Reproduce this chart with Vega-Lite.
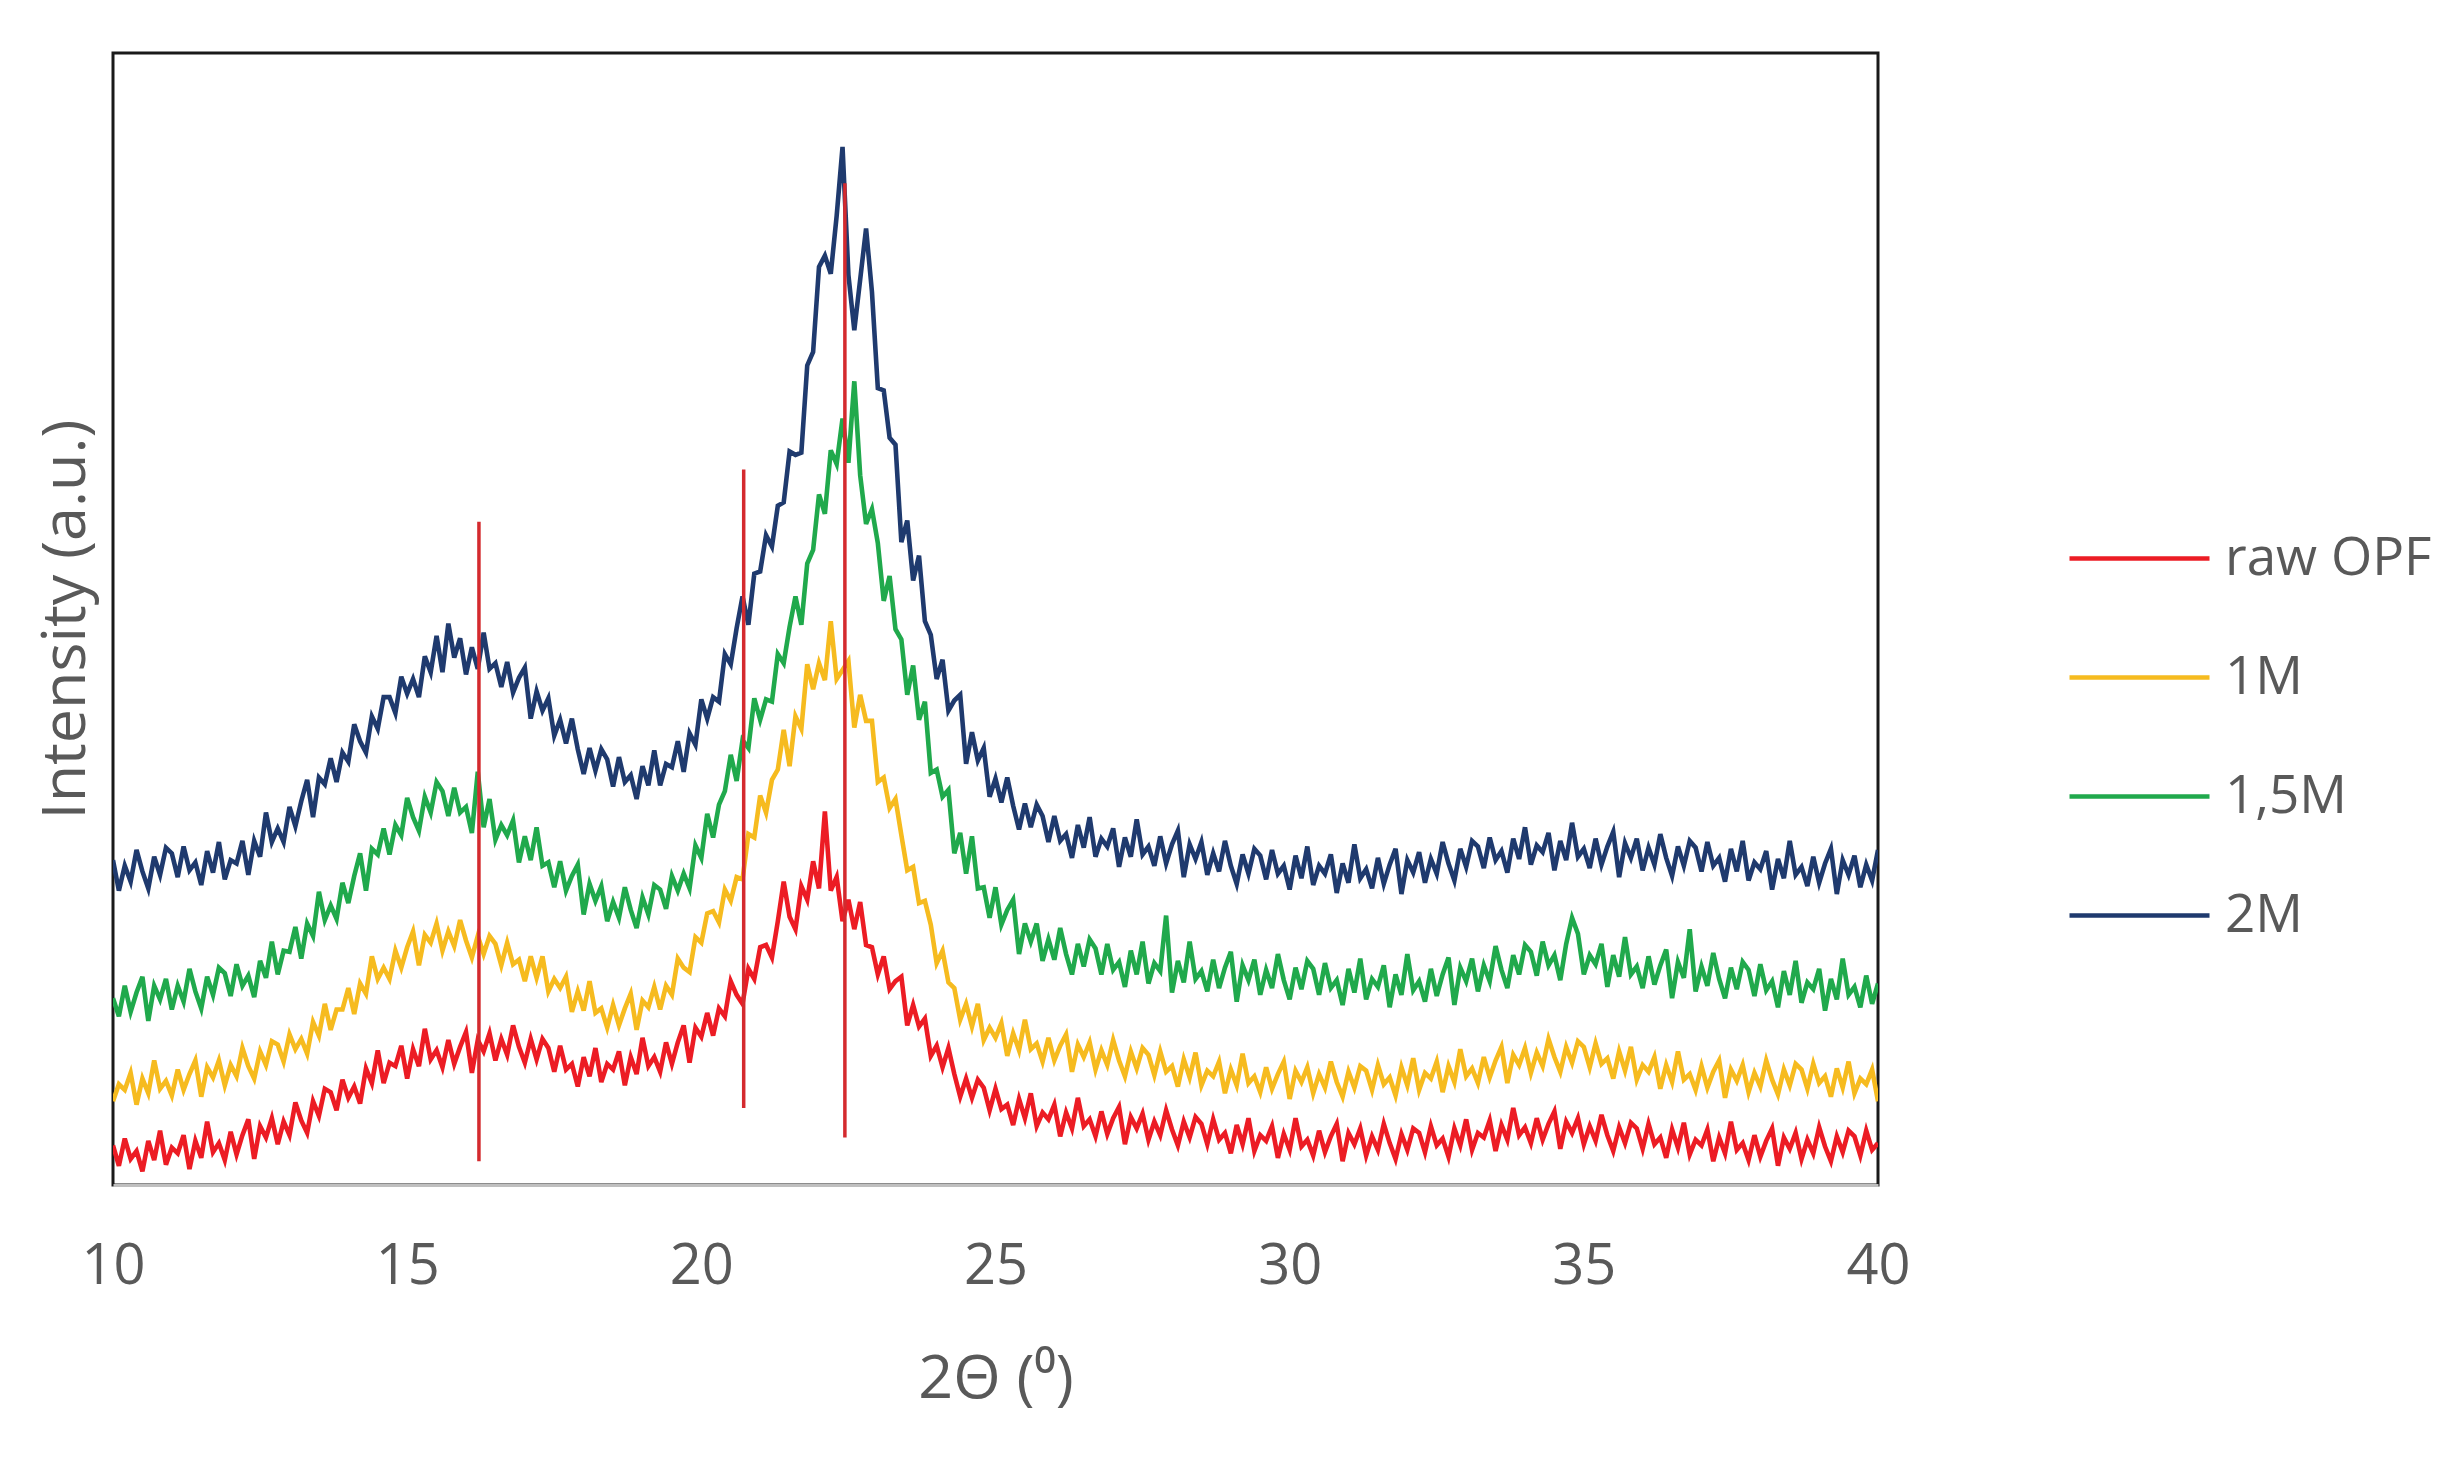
{
"$schema":"https://vega.github.io/schema/vega-lite/v6.json",
"width":1765,"height":1132,
"autosize":{"type":"none"},
"padding":{"left":113,"top":53,"right":564,"bottom":296},
"background":"white",
"config":{"view":{"stroke":"#1a1a1a","strokeWidth":3},"font":"Open Sans"},
"layer":[
{"data":{"values":[
{"x":10,"r":3.5,"y":7.4,"g":16.5,"b":28.7},
{"x":10.1,"r":1.7,"y":8.9,"g":14.9,"b":26.0},
{"x":10.2,"r":4.1,"y":8.4,"g":17.6,"b":28.2},
{"x":10.3,"r":2.3,"y":9.9,"g":15.3,"b":26.8},
{"x":10.4,"r":3.0,"y":7.1,"g":17.0,"b":29.6},
{"x":10.5,"r":1.2,"y":9.4,"g":18.4,"b":27.7},
{"x":10.6,"r":3.9,"y":8.1,"g":14.5,"b":26.2},
{"x":10.7,"r":2.2,"y":11.0,"g":17.6,"b":29.0},
{"x":10.8,"r":4.8,"y":8.5,"g":16.4,"b":27.4},
{"x":10.9,"r":1.8,"y":9.2,"g":18.2,"b":29.8},
{"x":11.0,"r":3.3,"y":7.9,"g":15.5,"b":29.3},
{"x":11.1,"r":2.8,"y":10.2,"g":17.6,"b":27.2},
{"x":11.2,"r":4.4,"y":8.4,"g":16.2,"b":29.9},
{"x":11.3,"r":1.4,"y":9.8,"g":19.1,"b":27.8},
{"x":11.4,"r":3.9,"y":11.0,"g":17.1,"b":28.5},
{"x":11.5,"r":2.4,"y":7.8,"g":15.6,"b":26.5},
{"x":11.6,"r":5.6,"y":10.4,"g":18.4,"b":29.5},
{"x":11.7,"r":2.9,"y":9.5,"g":16.8,"b":27.6},
{"x":11.8,"r":3.7,"y":11.0,"g":19.2,"b":30.3},
{"x":11.9,"r":2.2,"y":8.8,"g":18.7,"b":27.0},
{"x":12.0,"r":4.7,"y":10.6,"g":16.7,"b":28.7},
{"x":12.1,"r":2.7,"y":9.6,"g":19.5,"b":28.4},
{"x":12.2,"r":4.4,"y":12.1,"g":17.6,"b":30.4},
{"x":12.3,"r":5.8,"y":10.5,"g":18.5,"b":27.4},
{"x":12.4,"r":2.3,"y":9.4,"g":16.6,"b":30.4},
{"x":12.5,"r":5.2,"y":11.8,"g":19.8,"b":29.0},
{"x":12.6,"r":4.2,"y":10.6,"g":18.3,"b":32.9},
{"x":12.7,"r":5.9,"y":12.7,"g":21.5,"b":30.3},
{"x":12.8,"r":3.6,"y":12.4,"g":18.6,"b":31.5},
{"x":12.9,"r":5.6,"y":10.9,"g":20.7,"b":30.3},
{"x":13.0,"r":4.4,"y":13.3,"g":20.6,"b":33.4},
{"x":13.1,"r":7.3,"y":12.0,"g":22.8,"b":31.7},
{"x":13.2,"r":5.7,"y":12.9,"g":20.0,"b":33.9},
{"x":13.3,"r":4.6,"y":11.6,"g":23.1,"b":35.8},
{"x":13.4,"r":7.4,"y":14.4,"g":22.0,"b":32.5},
{"x":13.5,"r":6.1,"y":13.2,"g":25.9,"b":36.0},
{"x":13.6,"r":8.5,"y":16.0,"g":23.4,"b":35.4},
{"x":13.7,"r":8.2,"y":13.7,"g":24.7,"b":37.7},
{"x":13.8,"r":6.6,"y":15.5,"g":23.5,"b":35.6},
{"x":13.9,"r":9.3,"y":15.5,"g":26.7,"b":38.2},
{"x":14.0,"r":7.7,"y":17.4,"g":24.9,"b":37.4},
{"x":14.1,"r":8.7,"y":15.1,"g":27.3,"b":40.7},
{"x":14.2,"r":7.2,"y":17.8,"g":29.3,"b":39.2},
{"x":14.3,"r":10.3,"y":16.9,"g":26.0,"b":38.2},
{"x":14.4,"r":9.0,"y":20.2,"g":29.7,"b":41.4},
{"x":14.5,"r":11.9,"y":18.2,"g":29.2,"b":40.3},
{"x":14.6,"r":9.0,"y":19.2,"g":31.5,"b":43.1},
{"x":14.7,"r":10.8,"y":18.2,"g":29.2,"b":43.1},
{"x":14.8,"r":10.5,"y":20.7,"g":31.8,"b":41.7},
{"x":14.9,"r":12.3,"y":19.2,"g":30.9,"b":44.9},
{"x":15.0,"r":9.4,"y":21.0,"g":34.2,"b":43.4},
{"x":15.1,"r":12.0,"y":22.4,"g":32.5,"b":44.7},
{"x":15.2,"r":10.5,"y":19.4,"g":31.3,"b":43.1},
{"x":15.3,"r":13.8,"y":22.1,"g":34.3,"b":46.7},
{"x":15.4,"r":11.1,"y":21.4,"g":32.9,"b":45.3},
{"x":15.5,"r":11.9,"y":23.1,"g":35.6,"b":48.5},
{"x":15.6,"r":10.4,"y":20.7,"g":34.8,"b":45.3},
{"x":15.7,"r":12.8,"y":22.4,"g":32.6,"b":49.6},
{"x":15.8,"r":10.7,"y":21.1,"g":35.1,"b":46.6},
{"x":15.9,"r":12.2,"y":23.4,"g":32.9,"b":48.3},
{"x":16.0,"r":13.5,"y":21.6,"g":33.4,"b":45.1},
{"x":16.1,"r":9.9,"y":20.1,"g":31.1,"b":47.5},
{"x":16.2,"r":12.8,"y":22.0,"g":36.5,"b":45.6},
{"x":16.3,"r":11.8,"y":20.4,"g":31.6,"b":48.8},
{"x":16.4,"r":13.4,"y":22.0,"g":34.1,"b":45.6},
{"x":16.5,"r":11.0,"y":21.3,"g":30.5,"b":46.1},
{"x":16.6,"r":12.9,"y":19.4,"g":31.8,"b":44.0},
{"x":16.7,"r":11.5,"y":21.4,"g":30.9,"b":46.2},
{"x":16.8,"r":14.1,"y":19.5,"g":32.2,"b":43.5},
{"x":16.9,"r":12.2,"y":19.9,"g":28.5,"b":44.8},
{"x":17.0,"r":10.8,"y":18.0,"g":30.8,"b":45.7},
{"x":17.1,"r":12.9,"y":20.2,"g":28.7,"b":41.2},
{"x":17.2,"r":11.1,"y":18.3,"g":31.6,"b":43.6},
{"x":17.3,"r":12.9,"y":20.2,"g":28.2,"b":41.9},
{"x":17.4,"r":12.1,"y":17.1,"g":28.5,"b":43.0},
{"x":17.5,"r":10.0,"y":18.2,"g":26.3,"b":39.7},
{"x":17.6,"r":12.3,"y":17.4,"g":28.6,"b":41.1},
{"x":17.7,"r":10.2,"y":18.4,"g":26.0,"b":39.0},
{"x":17.8,"r":10.7,"y":15.3,"g":27.3,"b":41.2},
{"x":17.9,"r":8.7,"y":17.1,"g":28.3,"b":38.5},
{"x":18.0,"r":11.3,"y":15.4,"g":23.9,"b":36.3},
{"x":18.1,"r":9.6,"y":18.0,"g":26.6,"b":38.6},
{"x":18.2,"r":12.1,"y":15.2,"g":25.1,"b":36.6},
{"x":18.3,"r":9.1,"y":15.6,"g":26.4,"b":38.5},
{"x":18.4,"r":10.7,"y":13.9,"g":23.3,"b":37.6},
{"x":18.5,"r":10.2,"y":15.9,"g":25.0,"b":35.2},
{"x":18.6,"r":11.8,"y":14.1,"g":23.6,"b":37.8},
{"x":18.7,"r":8.8,"y":15.6,"g":26.3,"b":35.6},
{"x":18.8,"r":11.3,"y":16.9,"g":24.3,"b":36.2},
{"x":18.9,"r":9.8,"y":13.7,"g":22.7,"b":34.1},
{"x":19.0,"r":13.0,"y":16.3,"g":25.4,"b":37.0},
{"x":19.1,"r":10.5,"y":15.7,"g":23.9,"b":35.3},
{"x":19.2,"r":11.3,"y":17.5,"g":26.5,"b":38.4},
{"x":19.3,"r":10.0,"y":15.5,"g":26.1,"b":35.3},
{"x":19.4,"r":12.6,"y":17.6,"g":24.4,"b":37.2},
{"x":19.5,"r":10.7,"y":16.8,"g":27.3,"b":36.9},
{"x":19.6,"r":12.6,"y":20.0,"g":26.0,"b":39.2},
{"x":19.7,"r":14.1,"y":19.2,"g":27.5,"b":36.5},
{"x":19.8,"r":10.8,"y":18.8,"g":26.2,"b":39.9},
{"x":19.9,"r":13.9,"y":21.9,"g":30.0,"b":38.9},
{"x":20.0,"r":13.1,"y":21.4,"g":28.9,"b":42.9},
{"x":20.1,"r":15.2,"y":24.0,"g":32.8,"b":41.2},
{"x":20.2,"r":13.2,"y":24.2,"g":30.7,"b":43.1},
{"x":20.3,"r":15.6,"y":23.2,"g":33.6,"b":42.7},
{"x":20.4,"r":14.9,"y":26.1,"g":34.8,"b":46.9},
{"x":20.5,"r":18.0,"y":25.1,"g":38.0,"b":46.0},
{"x":20.6,"r":16.8,"y":27.2,"g":35.7,"b":49.2},
{"x":20.7,"r":16.0,"y":27.0,"g":39.3,"b":52.0},
{"x":20.8,"r":19.1,"y":31.0,"g":38.6,"b":49.5},
{"x":20.9,"r":18.2,"y":30.7,"g":43.0,"b":54.0},
{"x":21.0,"r":21.0,"y":34.4,"g":41.1,"b":54.2},
{"x":21.1,"r":21.2,"y":32.9,"g":42.9,"b":57.4},
{"x":21.2,"r":20.1,"y":35.8,"g":42.7,"b":56.4},
{"x":21.3,"r":23.3,"y":36.7,"g":46.9,"b":60.0},
{"x":21.4,"r":26.8,"y":40.2,"g":46.1,"b":60.3},
{"x":21.5,"r":23.7,"y":37.0,"g":49.3,"b":64.8},
{"x":21.6,"r":22.6,"y":41.4,"g":52.0,"b":64.5},
{"x":21.7,"r":26.4,"y":40.3,"g":49.5,"b":64.7},
{"x":21.8,"r":25.2,"y":46.0,"g":54.9,"b":72.4},
{"x":21.9,"r":28.6,"y":43.8,"g":56.1,"b":73.6},
{"x":22.0,"r":26.2,"y":46.1,"g":61.0,"b":81.1},
{"x":22.1,"r":33.0,"y":44.6,"g":59.3,"b":82.1},
{"x":22.2,"r":26.0,"y":49.8,"g":64.9,"b":80.5},
{"x":22.3,"r":27.2,"y":44.7,"g":63.7,"b":85.6},
{"x":22.4,"r":23.3,"y":45.5,"g":67.7,"b":91.7},
{"x":22.5,"r":25.2,"y":46.3,"g":63.8,"b":80.4},
{"x":22.6,"r":22.6,"y":40.4,"g":71.0,"b":75.5},
{"x":22.7,"r":25.0,"y":43.3,"g":62.7,"b":80.0},
{"x":22.8,"r":21.2,"y":41.0,"g":58.4,"b":84.5},
{"x":22.9,"r":21.0,"y":41.0,"g":59.7,"b":78.9},
{"x":23.0,"r":18.6,"y":35.6,"g":56.7,"b":70.4},
{"x":23.1,"r":20.2,"y":36.0,"g":51.6,"b":70.2},
{"x":23.2,"r":17.3,"y":33.3,"g":53.8,"b":66.0},
{"x":23.3,"r":18.0,"y":34.1,"g":49.1,"b":65.4},
{"x":23.4,"r":18.4,"y":30.9,"g":48.2,"b":56.8},
{"x":23.5,"r":14.1,"y":27.8,"g":43.3,"b":58.7},
{"x":23.6,"r":15.9,"y":28.1,"g":45.9,"b":53.4},
{"x":23.7,"r":14.0,"y":24.9,"g":41.1,"b":55.6},
{"x":23.8,"r":14.7,"y":25.1,"g":42.7,"b":49.8},
{"x":23.9,"r":11.4,"y":23.0,"g":36.4,"b":48.6},
{"x":24.0,"r":12.3,"y":19.6,"g":36.7,"b":44.7},
{"x":24.1,"r":10.4,"y":20.7,"g":34.3,"b":46.4},
{"x":24.2,"r":12.1,"y":17.9,"g":34.9,"b":41.9},
{"x":24.3,"r":9.8,"y":17.4,"g":29.3,"b":42.8},
{"x":24.4,"r":7.8,"y":14.6,"g":31.1,"b":43.3},
{"x":24.5,"r":9.4,"y":16.0,"g":27.5,"b":37.2},
{"x":24.6,"r":7.7,"y":14.0,"g":30.8,"b":40.0},
{"x":24.7,"r":9.3,"y":16.0,"g":26.2,"b":37.5},
{"x":24.8,"r":8.6,"y":12.8,"g":26.3,"b":38.6},
{"x":24.9,"r":6.6,"y":13.9,"g":23.6,"b":34.3},
{"x":25.0,"r":8.5,"y":13.0,"g":26.3,"b":35.9},
{"x":25.1,"r":6.7,"y":14.3,"g":23.0,"b":33.8},
{"x":25.2,"r":7.1,"y":11.4,"g":24.3,"b":36.0},
{"x":25.3,"r":5.3,"y":13.4,"g":25.2,"b":33.5},
{"x":25.4,"r":7.6,"y":11.9,"g":20.4,"b":31.4},
{"x":25.5,"r":5.9,"y":14.6,"g":23.1,"b":33.7},
{"x":25.6,"r":8.1,"y":12.0,"g":21.5,"b":31.6},
{"x":25.7,"r":5.2,"y":12.5,"g":23.1,"b":33.6},
{"x":25.8,"r":6.4,"y":10.9,"g":19.8,"b":32.6},
{"x":25.9,"r":5.8,"y":13.0,"g":21.7,"b":30.3},
{"x":26.0,"r":7.1,"y":11.0,"g":19.9,"b":32.6},
{"x":26.1,"r":4.3,"y":12.3,"g":22.7,"b":30.4},
{"x":26.2,"r":6.4,"y":13.3,"g":20.4,"b":31.0},
{"x":26.3,"r":5.0,"y":10.0,"g":18.6,"b":28.9},
{"x":26.4,"r":7.7,"y":12.4,"g":21.3,"b":31.8},
{"x":26.5,"r":5.2,"y":11.3,"g":19.3,"b":29.8},
{"x":26.6,"r":5.8,"y":12.6,"g":21.7,"b":32.5},
{"x":26.7,"r":4.3,"y":10.2,"g":20.9,"b":29.0},
{"x":26.8,"r":6.5,"y":11.9,"g":18.6,"b":30.6},
{"x":26.9,"r":4.5,"y":10.6,"g":21.3,"b":29.9},
{"x":27.0,"r":5.9,"y":12.8,"g":19.0,"b":31.5},
{"x":27.1,"r":6.9,"y":11.0,"g":19.7,"b":28.1},
{"x":27.2,"r":3.6,"y":9.6,"g":17.5,"b":30.7},
{"x":27.3,"r":6.0,"y":11.8,"g":20.7,"b":29.0},
{"x":27.4,"r":5.0,"y":10.3,"g":18.6,"b":32.3},
{"x":27.5,"r":6.3,"y":12.1,"g":21.5,"b":29.2},
{"x":27.6,"r":4.0,"y":11.5,"g":17.8,"b":29.9},
{"x":27.7,"r":5.6,"y":9.7,"g":19.6,"b":28.2},
{"x":27.8,"r":4.4,"y":11.8,"g":18.9,"b":30.8},
{"x":27.9,"r":6.6,"y":10.0,"g":23.8,"b":28.4},
{"x":28.0,"r":4.9,"y":10.5,"g":17.0,"b":30.1},
{"x":28.1,"r":3.5,"y":8.7,"g":19.8,"b":31.3},
{"x":28.2,"r":5.6,"y":11.1,"g":17.9,"b":27.2},
{"x":28.3,"r":4.2,"y":9.5,"g":21.5,"b":30.1},
{"x":28.4,"r":6.0,"y":11.7,"g":18.2,"b":28.8},
{"x":28.5,"r":5.4,"y":8.8,"g":18.9,"b":30.3},
{"x":28.6,"r":3.6,"y":10.1,"g":17.1,"b":27.4},
{"x":28.7,"r":5.8,"y":9.6,"g":19.9,"b":29.3},
{"x":28.8,"r":4.0,"y":10.9,"g":17.4,"b":27.7},
{"x":28.9,"r":4.6,"y":8.1,"g":19.2,"b":30.4},
{"x":29.0,"r":2.8,"y":10.2,"g":20.6,"b":28.2},
{"x":29.1,"r":5.3,"y":8.8,"g":16.2,"b":26.6},
{"x":29.2,"r":3.6,"y":11.6,"g":19.4,"b":29.2},
{"x":29.3,"r":5.9,"y":9.0,"g":18.1,"b":27.5},
{"x":29.4,"r":3.0,"y":9.6,"g":19.9,"b":29.7},
{"x":29.5,"r":4.4,"y":8.2,"g":16.8,"b":29.1},
{"x":29.6,"r":3.9,"y":10.4,"g":19.0,"b":27.0},
{"x":29.7,"r":5.2,"y":8.5,"g":17.4,"b":29.6},
{"x":29.8,"r":2.4,"y":9.8,"g":20.4,"b":27.5},
{"x":29.9,"r":4.5,"y":10.9,"g":18.1,"b":28.2},
{"x":30.0,"r":3.1,"y":7.6,"g":16.4,"b":26.1},
{"x":30.1,"r":5.9,"y":10.1,"g":19.2,"b":29.1},
{"x":30.2,"r":3.4,"y":9.1,"g":17.3,"b":27.1},
{"x":30.3,"r":4.0,"y":10.4,"g":19.8,"b":29.9},
{"x":30.4,"r":2.6,"y":8.1,"g":19.1,"b":26.5},
{"x":30.5,"r":4.8,"y":9.8,"g":16.8,"b":28.2},
{"x":30.6,"r":2.9,"y":8.6,"g":19.6,"b":27.5},
{"x":30.7,"r":4.3,"y":10.9,"g":17.4,"b":29.2},
{"x":30.8,"r":5.4,"y":9.1,"g":18.1,"b":25.8},
{"x":30.9,"r":2.1,"y":7.8,"g":15.9,"b":28.4},
{"x":31.0,"r":4.6,"y":10.0,"g":19.1,"b":26.7},
{"x":31.1,"r":3.6,"y":8.6,"g":17.0,"b":30.1},
{"x":31.2,"r":5.0,"y":10.5,"g":20.0,"b":27.1},
{"x":31.3,"r":2.6,"y":10.1,"g":16.4,"b":27.9},
{"x":31.4,"r":4.3,"y":8.4,"g":18.2,"b":26.2},
{"x":31.5,"r":3.1,"y":10.6,"g":17.5,"b":28.9},
{"x":31.6,"r":5.4,"y":8.9,"g":19.4,"b":26.6},
{"x":31.7,"r":3.7,"y":9.5,"g":15.7,"b":28.3},
{"x":31.8,"r":2.3,"y":7.9,"g":18.6,"b":29.7},
{"x":31.9,"r":4.5,"y":10.4,"g":16.8,"b":25.7},
{"x":32.0,"r":3.1,"y":8.8,"g":20.4,"b":28.7},
{"x":32.1,"r":5.0,"y":11.2,"g":17.2,"b":27.6},
{"x":32.2,"r":4.6,"y":8.4,"g":18.0,"b":29.4},
{"x":32.3,"r":2.9,"y":9.9,"g":16.2,"b":26.7},
{"x":32.4,"r":5.2,"y":9.4,"g":19.1,"b":28.8},
{"x":32.5,"r":3.5,"y":10.9,"g":16.7,"b":27.5},
{"x":32.6,"r":4.1,"y":8.2,"g":18.6,"b":30.3},
{"x":32.7,"r":2.5,"y":10.5,"g":20.1,"b":28.4},
{"x":32.8,"r":5.0,"y":9.1,"g":15.9,"b":26.9},
{"x":32.9,"r":3.5,"y":12.0,"g":19.2,"b":29.7},
{"x":33.0,"r":5.8,"y":9.6,"g":18.0,"b":28.1},
{"x":33.1,"r":3.1,"y":10.3,"g":20.0,"b":30.4},
{"x":33.2,"r":4.6,"y":9.0,"g":17.1,"b":29.9},
{"x":33.3,"r":4.2,"y":11.3,"g":19.4,"b":28.0},
{"x":33.4,"r":5.7,"y":9.5,"g":18.0,"b":30.7},
{"x":33.5,"r":3.0,"y":11.0,"g":21.1,"b":28.7},
{"x":33.6,"r":5.3,"y":12.2,"g":19.0,"b":29.5},
{"x":33.7,"r":4.0,"y":9.0,"g":17.4,"b":27.6},
{"x":33.8,"r":6.8,"y":11.5,"g":20.3,"b":30.6},
{"x":33.9,"r":4.4,"y":10.6,"g":18.6,"b":28.8},
{"x":34.0,"r":5.1,"y":12.1,"g":21.2,"b":31.6},
{"x":34.1,"r":3.7,"y":9.9,"g":20.6,"b":28.3},
{"x":34.2,"r":5.9,"y":11.7,"g":18.5,"b":30.0},
{"x":34.3,"r":4.0,"y":10.5,"g":21.5,"b":29.4},
{"x":34.4,"r":5.4,"y":12.9,"g":19.4,"b":31.1},
{"x":34.5,"r":6.5,"y":11.3,"g":20.3,"b":27.8},
{"x":34.6,"r":3.2,"y":10.0,"g":18.1,"b":30.4},
{"x":34.7,"r":5.6,"y":12.2,"g":21.3,"b":28.7},
{"x":34.8,"r":4.6,"y":10.8,"g":23.6,"b":32.0},
{"x":34.9,"r":5.9,"y":12.7,"g":22.2,"b":29.0},
{"x":35.0,"r":3.6,"y":12.2,"g":18.6,"b":29.7},
{"x":35.1,"r":5.2,"y":10.4,"g":20.3,"b":28.0},
{"x":35.2,"r":3.9,"y":12.5,"g":19.5,"b":30.6},
{"x":35.3,"r":6.2,"y":10.7,"g":21.3,"b":28.3},
{"x":35.4,"r":4.4,"y":11.2,"g":17.5,"b":29.9},
{"x":35.5,"r":3.0,"y":9.4,"g":20.3,"b":31.2},
{"x":35.6,"r":5.1,"y":11.8,"g":18.4,"b":27.2},
{"x":35.7,"r":3.7,"y":10.1,"g":21.9,"b":30.2},
{"x":35.8,"r":5.5,"y":12.2,"g":18.6,"b":28.9},
{"x":35.9,"r":5.0,"y":9.3,"g":19.3,"b":30.6},
{"x":36.0,"r":3.2,"y":10.6,"g":17.4,"b":27.8},
{"x":36.1,"r":5.4,"y":10.0,"g":20.2,"b":29.8},
{"x":36.2,"r":3.6,"y":11.3,"g":17.7,"b":28.3},
{"x":36.3,"r":4.2,"y":8.5,"g":19.4,"b":31.0},
{"x":36.4,"r":2.4,"y":10.6,"g":20.8,"b":28.9},
{"x":36.5,"r":4.9,"y":9.1,"g":16.5,"b":27.3},
{"x":36.6,"r":3.3,"y":11.8,"g":19.7,"b":29.9},
{"x":36.7,"r":5.5,"y":9.3,"g":18.3,"b":28.2},
{"x":36.8,"r":2.7,"y":9.8,"g":22.6,"b":30.4},
{"x":36.9,"r":4.0,"y":8.4,"g":17.1,"b":29.8},
{"x":37.0,"r":3.5,"y":10.5,"g":19.3,"b":27.7},
{"x":37.1,"r":4.9,"y":8.6,"g":17.6,"b":30.3},
{"x":37.2,"r":2.1,"y":10.0,"g":20.5,"b":28.2},
{"x":37.3,"r":4.2,"y":11.0,"g":18.2,"b":28.9},
{"x":37.4,"r":2.8,"y":7.7,"g":16.5,"b":26.8},
{"x":37.5,"r":5.6,"y":10.2,"g":19.2,"b":29.7},
{"x":37.6,"r":3.1,"y":9.2,"g":17.3,"b":27.7},
{"x":37.7,"r":3.7,"y":10.6,"g":19.7,"b":30.4},
{"x":37.8,"r":2.2,"y":8.2,"g":19.0,"b":26.9},
{"x":37.9,"r":4.4,"y":9.9,"g":16.7,"b":28.5},
{"x":38.0,"r":2.5,"y":8.7,"g":19.5,"b":27.9},
{"x":38.1,"r":3.9,"y":11.0,"g":17.2,"b":29.5},
{"x":38.2,"r":5.0,"y":9.3,"g":18.0,"b":26.1},
{"x":38.3,"r":1.7,"y":8.0,"g":15.7,"b":28.8},
{"x":38.4,"r":4.2,"y":10.2,"g":18.9,"b":27.1},
{"x":38.5,"r":3.2,"y":8.8,"g":16.8,"b":30.4},
{"x":38.6,"r":4.6,"y":10.7,"g":19.8,"b":27.4},
{"x":38.7,"r":2.3,"y":10.2,"g":16.1,"b":28.1},
{"x":38.8,"r":4.0,"y":8.5,"g":17.9,"b":26.4},
{"x":38.9,"r":2.8,"y":10.7,"g":17.3,"b":29.0},
{"x":39.0,"r":5.1,"y":9.0,"g":19.1,"b":26.7},
{"x":39.1,"r":3.4,"y":9.6,"g":15.4,"b":28.4},
{"x":39.2,"r":2.1,"y":7.8,"g":18.2,"b":29.7},
{"x":39.3,"r":4.3,"y":10.3,"g":16.4,"b":25.7},
{"x":39.4,"r":2.9,"y":8.6,"g":20.0,"b":28.7},
{"x":39.5,"r":4.8,"y":10.9,"g":16.8,"b":27.4},
{"x":39.6,"r":4.3,"y":8.1,"g":17.5,"b":29.1},
{"x":39.7,"r":2.6,"y":9.4,"g":15.7,"b":26.3},
{"x":39.8,"r":4.8,"y":8.9,"g":18.5,"b":28.3},
{"x":39.9,"r":3.1,"y":10.2,"g":16.0,"b":26.9},
{"x":40.0,"r":3.7,"y":7.4,"g":17.8,"b":29.6}
]},
"transform":[{"fold":["r","y","g","b"],"as":["s","v"]}],
"mark":{"type":"line","strokeWidth":4.6,"strokeJoin":"miter","clip":true},
"encoding":{
"x":{"field":"x","type":"quantitative","scale":{"domain":[10,40],"nice":false,"zero":false},
"axis":{"values":[10,15,20,25,30,35,40],"format":"d","title":"2Θ (⁰)","grid":false,"ticks":false,"tickSize":0,"domainColor":"#bfbfbf","domainWidth":3,"labelFontSize":56,"labelColor":"#595959","labelPadding":54,"labelFlush":false,"titleFontSize":61,"titleColor":"#595959","titleFontWeight":"normal","titlePadding":55}},
"y":{"field":"v","type":"quantitative","scale":{"domain":[0,100],"nice":false},
"axis":{"title":"Intensity (a.u.)","labels":false,"ticks":false,"tickSize":0,"domain":false,"grid":false,"titleFontSize":61,"titleColor":"#595959","titleFontWeight":"normal","titlePadding":16}},
"color":{"field":"s","type":"nominal","scale":{"domain":["r","y","g","b"],"range":["#ec1c24","#f6bb1f","#20a94c","#1f3a6e"]},
"legend":{"orient":"none","legendX":1954,"legendY":433,"title":null,"symbolType":"stroke","symbolSize":19600,"symbolStrokeWidth":4.5,"rowPadding":19,"padding":0,"labelFontSize":53,"labelColor":"#595959","labelOffset":13,"labelLimit":500,"labelExpr":"{'r':'raw OPF','y':'1M','g':'1,5M','b':'2M'}[datum.label]"}}
}},
{"data":{"values":[{"x":16.22,"lo":2.1,"hi":58.6},{"x":20.72,"lo":6.8,"hi":63.2},{"x":22.44,"lo":4.2,"hi":88.5}]},
"mark":{"type":"rule","color":"#d42a2e","strokeWidth":3.5},
"encoding":{"x":{"field":"x","type":"quantitative"},"y":{"field":"lo","type":"quantitative"},"y2":{"field":"hi"}}}
]
}
